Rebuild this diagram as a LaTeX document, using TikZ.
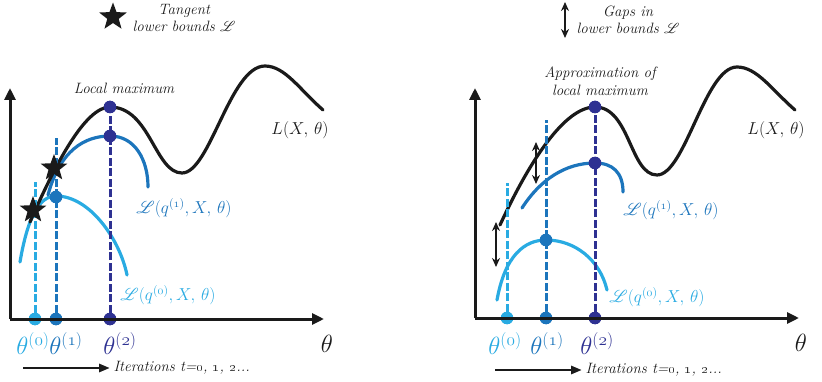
\documentclass[tikz,border=0pt]{standalone}
\usepackage{mathrsfs}
\usetikzlibrary{shapes.geometric,arrows.meta}
\definecolor{lb}{HTML}{29ABE2}
\definecolor{mb}{HTML}{1C75BC}
\definecolor{nb}{HTML}{2E3192}
\definecolor{ink}{HTML}{1A1A1A}
\begin{document}
\begin{tikzpicture}[x=1pt,y=-1pt,
  curve/.style={line width=3.2pt,line cap=round},
  axisline/.style={line width=3pt,ink,-{Triangle[length=12pt,width=11pt]}},
  dashline/.style={line width=3pt,dash pattern=on 8pt off 2.5pt},
  dot/.style={circle,fill=#1,inner sep=0pt,minimum size=12.5pt},
  starnode/.style={star,star points=5,star point ratio=2.4,fill=ink,inner sep=0pt,minimum size=#1},
  lab/.style={font=\fontsize{15}{17.5}\selectfont\itshape,align=center,text=ink},
  funlab/.style={font=\fontsize{16.5}{19}\selectfont,text=#1},
  thlab/.style={font=\fontsize{24}{26}\selectfont,text=#1},
  gaparrow/.style={line width=2.8pt,ink,{Stealth[length=9pt,width=8pt]}-{Stealth[length=9pt,width=8pt]}},
  iterarrow/.style={line width=2.8pt,ink,-{Triangle[length=11pt,width=8pt]}}
]
\useasboundingbox (0,0) rectangle (822,382);

% ================= LEFT PANEL =================
% legend
\node[starnode=29pt] (legstar) at (113,17) {};
\node[lab] (legtext) at (184,18) {Tangent\\lower bounds $\mathscr{L}$};

% curves
\draw[curve,lb] (20,262) .. controls (28,215) and (40,196) .. (56,196)
                .. controls (90,196) and (120,240) .. (127,275);
\draw[curve,mb] (48,195) .. controls (60,150) and (85,136) .. (110,136)
                .. controls (135,136) and (148,160) .. (148,187);
\draw[curve,ink] (30,222) .. controls (55,165) and (85,107) .. (110,107)
                 .. controls (150,107) and (155,173) .. (182,173)
                 .. controls (210,173) and (230,66) .. (265,66)
                 .. controls (285,66) and (300,90) .. (323,110);

% axes
\coordinate (LO) at (10,319);
\coordinate (LY) at (10,88);
\coordinate (LX) at (324,319);

% dashed lines and dots
\node[dot=lb] (la0) at (35,319) {};
\node[dot=mb] (la1) at (56,319) {};
\node[dot=nb] (la2) at (110,319) {};
\coordinate (lt0) at (35,182);
\coordinate (lt1) at (56,138);
\node[dot=mb] (lm1) at (56,197) {};
\node[dot=nb] (lm2) at (110,136) {};
\node[dot=nb] (lmax) at (110,107) {};
\draw[dashline,lb] (la0) -- (lt0);
\draw[dashline,mb] (la1) -- (lt1);
\draw[dashline,nb] (la2) -- (lmax);
\node[dot=lb] at (la0) {};
\node[dot=mb] at (la1) {};
\node[dot=nb] at (la2) {};
\node[dot=mb] at (lm1) {};
\node[dot=nb] at (lm2) {};
\node[dot=nb] at (lmax) {};
\draw[axisline] (LO) -- (LY);
\draw[axisline] (LO) -- (LX);

% stars
\node[starnode=28pt] (ls1) at (33,210) {};
\node[starnode=28pt] (ls2) at (54,168) {};

% labels
\node[lab] (llocal) at (124,88) {Local maximum};
\node[funlab=ink] (lL) at (300,130) {$L(X,\,\theta)$};
\node[funlab=mb] (lq1) at (184,208) {$\mathscr{L}(q^{(\mathnormal{1})},X,\,\theta)$};
\node[funlab=lb] (lq0) at (168,295) {$\mathscr{L}(q^{(\mathnormal{0})},X,\,\theta)$};
\node[thlab=lb] (lth0) at (33,344) {$\theta^{(\mathnormal{0})}$};
\node[thlab=mb] (lth1) at (66,344) {$\theta^{(\mathnormal{1})}$};
\node[thlab=nb] (lth2) at (120,344) {$\theta^{(\mathnormal{2})}$};
\node[thlab=ink] (lth) at (327,344) {$\theta$};
\coordinate (lit0) at (23,368);
\node[lab,anchor=west] (lit) at (110,368) {Iterations t=\oldstylenums{0}, \oldstylenums{1}, \oldstylenums{2}...};
\draw[iterarrow] (lit0) -- (lit.west);

% ================= RIGHT PANEL =================
% legend
\coordinate (gt) at (565,2);
\coordinate (gb) at (565,38);
\draw[gaparrow] (gt) -- (gb);
\node[lab] (gtext) at (628,20) {Gaps in\\lower bounds $\mathscr{L}$};

% curves
\draw[curve,lb] (497,300) .. controls (505,255) and (525,240) .. (546,240)
                .. controls (575,240) and (600,260) .. (607,290);
\draw[curve,mb] (522,208) .. controls (540,180) and (565,163) .. (595,163)
                .. controls (612,163) and (623,172) .. (623,192);
\draw[curve,ink] (500,225) .. controls (530,160) and (565,107) .. (595,107)
                 .. controls (630,107) and (630,175) .. (657,175)
                 .. controls (685,175) and (705,67) .. (737,67)
                 .. controls (757,67) and (772,90) .. (795,110);

\coordinate (RO) at (475,318);
\coordinate (RY) at (475,88);
\coordinate (RX) at (799,318);

\node[dot=lb] (ra0) at (507,318) {};
\node[dot=mb] (ra1) at (546,318) {};
\node[dot=nb] (ra2) at (595,318) {};
\coordinate (rt0) at (507,183);
\coordinate (rt1) at (546,120);
\node[dot=mb] (rm1) at (546,240) {};
\node[dot=nb] (rm2) at (595,163) {};
\node[dot=nb] (rmax) at (595,107) {};
\draw[dashline,lb] (ra0) -- (rt0);
\draw[dashline,mb] (ra1) -- (rt1);
\draw[dashline,nb] (ra2) -- (rmax);
\node[dot=lb] at (ra0) {};
\node[dot=mb] at (ra1) {};
\node[dot=nb] at (ra2) {};
\node[dot=mb] at (rm1) {};
\node[dot=nb] at (rm2) {};
\node[dot=nb] at (rmax) {};
\draw[axisline] (RO) -- (RY);
\draw[axisline] (RO) -- (RX);

% gap arrows
\coordinate (g1t) at (536,142);
\coordinate (g1b) at (536,184);
\coordinate (g2t) at (496,222);
\coordinate (g2b) at (496,267);
\draw[gaparrow] (g1t) -- (g1b);
\draw[gaparrow] (g2t) -- (g2b);

% labels
\node[lab] (rlocal) at (600,81) {Approximation of\\local maximum};
\node[funlab=ink] (rL) at (776,130) {$L(X,\,\theta)$};
\node[funlab=mb] (rq1) at (671,210) {$\mathscr{L}(q^{(\mathnormal{1})},X,\,\theta)$};
\node[funlab=lb] (rq0) at (657,297) {$\mathscr{L}(q^{(\mathnormal{0})},X,\,\theta)$};
\node[thlab=lb] (rth0) at (505,344) {$\theta^{(\mathnormal{0})}$};
\node[thlab=mb] (rth1) at (547,344) {$\theta^{(\mathnormal{1})}$};
\node[thlab=nb] (rth2) at (597,344) {$\theta^{(\mathnormal{2})}$};
\node[thlab=ink] (rth) at (801,343) {$\theta$};
\coordinate (rit0) at (495,370);
\node[lab,anchor=west] (rit) at (582,370) {Iterations t=\oldstylenums{0}, \oldstylenums{1}, \oldstylenums{2}...};
\draw[iterarrow] (rit0) -- (rit.west);
\end{tikzpicture}
\end{document}
